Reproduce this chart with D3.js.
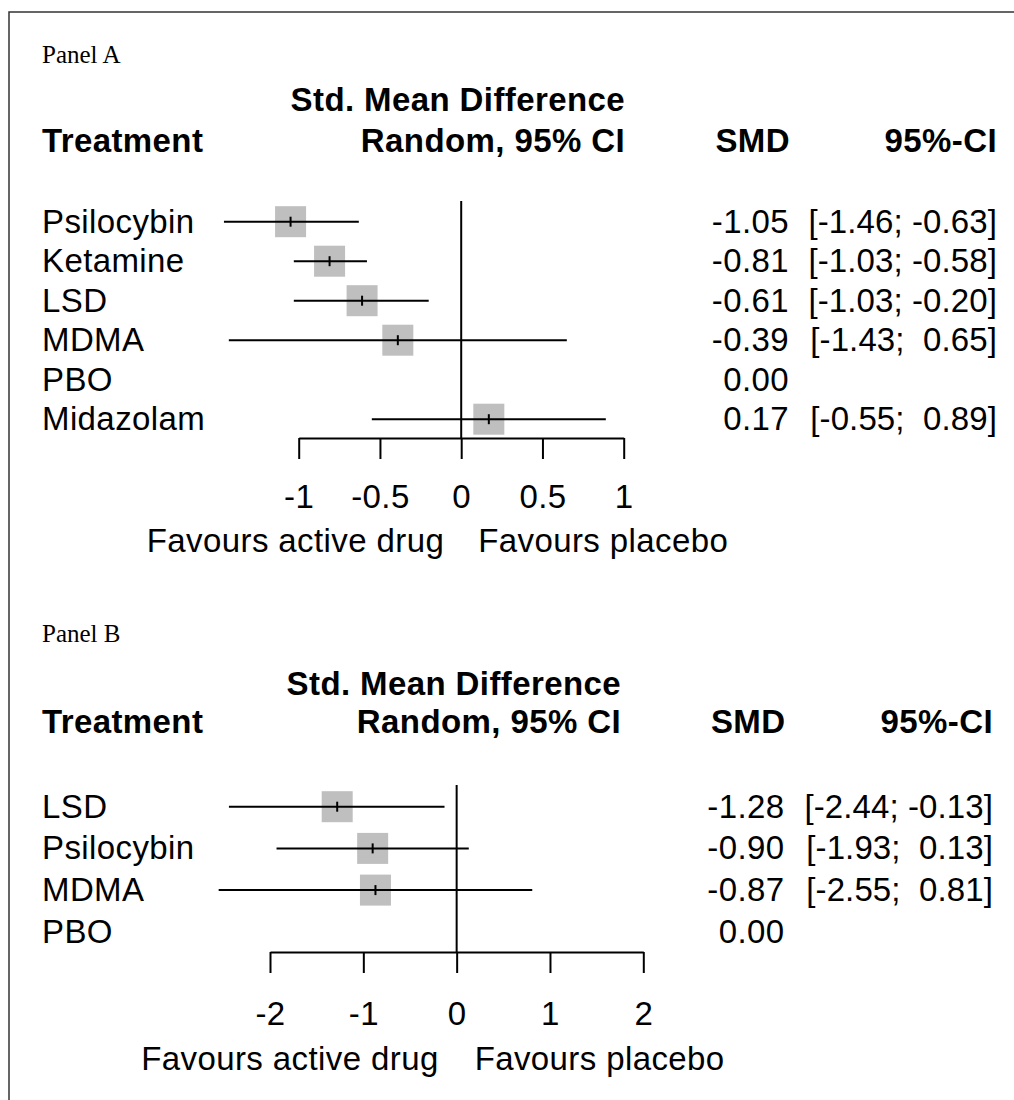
<!DOCTYPE html>
<html>
<head>
<meta charset="utf-8">
<script src="https://cdn.jsdelivr.net/npm/d3@7"></script>
<style>
  body { margin: 0; background: #fff; }
  text { font-family: "Liberation Sans", Arial, sans-serif; fill: #000; letter-spacing: 0.4px; }
</style>
</head>
<body>
<script>
var width = 1014,
    height = 1100;

// Panel A data
var treatmentsA = ["Psilocybin", "Ketamine", "LSD", "MDMA", "PBO", "Midazolam"];
var smdA   = [-1.05, -0.81, -0.61, -0.39, 0.00, 0.17];
var lowerA = [-1.46, -1.03, -1.03, -1.43, null, -0.55];
var upperA = [-0.63, -0.58, -0.20, 0.65, null, 0.89];
var ticksA = [-1, -0.5, 0, 0.5, 1];

// Panel B data
var treatmentsB = ["LSD", "Psilocybin", "MDMA", "PBO"];
var smdB   = [-1.28, -0.90, -0.87, 0.00];
var lowerB = [-2.44, -1.93, -2.55, null];
var upperB = [-0.13, 0.13, 0.81, null];
var ticksB = [-2, -1, 0, 1, 2];

var fontSize = 33;
var boxSize = 31;

var svg = d3.select("body").append("svg")
    .attr("width", width)
    .attr("height", height);

// frame
svg.append("path")
    .attr("d", "M9," + height + "V12H" + width)
    .attr("fill", "none")
    .attr("stroke", "#333")
    .attr("stroke-width", 1.5);

function fmtCI(lo, hi) {
  if (lo == null) return "";
  return "[" + lo.toFixed(2) + ";" + (hi < 0 ? " " : "  ") + hi.toFixed(2) + "]";
}

function drawPanel(p) {
  var g = svg.append("g");

  var x = d3.scaleLinear().domain(p.domain).range(p.xRange);
  var y = d3.scalePoint().domain(p.treatments)
      .range([p.row0, p.row0 + (p.treatments.length - 1) * p.step]);

  var rows = p.treatments.map(function(t, i) {
    return { name: t, smd: p.smd[i], lo: p.lower[i], hi: p.upper[i] };
  });

  // panel label
  g.append("text")
    .attr("x", 42).attr("y", p.labelY)
    .style("font-family", "'Liberation Serif', 'Times New Roman', serif")
    .style("font-size", "25px")
    .style("letter-spacing", "0px")
    .text(p.label);

  // headers
  var bold = function(sel) { return sel.style("font-weight", "bold").style("font-size", fontSize + "px"); };
  bold(g.append("text").attr("x", p.titleRight).attr("y", p.titleY)
    .attr("text-anchor", "end").text("Std. Mean Difference"));
  bold(g.append("text").attr("x", p.titleRight).attr("y", p.headY)
    .attr("text-anchor", "end").text("Random, 95% CI"));
  bold(g.append("text").attr("x", 42).attr("y", p.headY).text("Treatment"));
  bold(g.append("text").attr("x", p.smdRight + 1).attr("y", p.headY)
    .attr("text-anchor", "end").text("SMD"));
  bold(g.append("text").attr("x", p.ciRight).attr("y", p.headY)
    .attr("text-anchor", "end").text("95%-CI"));

  // reference line at 0
  g.append("line")
    .attr("x1", x(0)).attr("x2", x(0))
    .attr("y1", p.refTop).attr("y2", p.axisY)
    .attr("stroke", "#000").attr("stroke-width", 2);

  var row = g.selectAll("g.row").data(rows).enter().append("g").attr("class", "row");

  row.append("text")
    .attr("x", 42).attr("y", function(d) { return y(d.name) + 11; })
    .style("font-size", fontSize + "px")
    .text(function(d) { return d.name; });

  var est = row.filter(function(d) { return d.lo != null; });

  est.append("rect")
    .attr("x", function(d) { return x(d.smd) - boxSize / 2; })
    .attr("y", function(d) { return y(d.name) - boxSize / 2; })
    .attr("width", boxSize).attr("height", boxSize)
    .attr("fill", "#bfbfbf");

  est.append("line")
    .attr("x1", function(d) { return x(d.lo); })
    .attr("x2", function(d) { return x(d.hi); })
    .attr("y1", function(d) { return y(d.name); })
    .attr("y2", function(d) { return y(d.name); })
    .attr("stroke", "#000").attr("stroke-width", 2);

  est.append("line")
    .attr("x1", function(d) { return x(d.smd); })
    .attr("x2", function(d) { return x(d.smd); })
    .attr("y1", function(d) { return y(d.name) - 5; })
    .attr("y2", function(d) { return y(d.name) + 5; })
    .attr("stroke", "#000").attr("stroke-width", 2);

  row.append("text")
    .attr("x", p.smdRight).attr("y", function(d) { return y(d.name) + 11; })
    .attr("text-anchor", "end")
    .style("font-size", fontSize + "px")
    .text(function(d) { return d.smd.toFixed(2); });

  row.append("text")
    .attr("x", p.ciRight).attr("y", function(d) { return y(d.name) + 11; })
    .attr("text-anchor", "end")
    .style("font-size", fontSize + "px")
    .style("letter-spacing", "0.1px")
    .style("white-space", "pre")
    .text(function(d) { return fmtCI(d.lo, d.hi); });

  // axis
  var axis = g.append("g")
    .attr("transform", "translate(0," + p.axisY + ")")
    .call(d3.axisBottom(x).tickValues(p.ticks)
      .tickSize(p.tickLen).tickSizeOuter(0).tickPadding(p.tickPad)
      .tickFormat(function(d) { return String(d); }));
  axis.attr("font-family", null).attr("font-size", null);
  axis.selectAll("path, line").attr("stroke", "#000").attr("stroke-width", 2);
  axis.selectAll("text").style("font-size", fontSize + "px").attr("fill", "#000");

  g.append("text")
    .attr("x", x(0) - p.favGap).attr("y", p.favY)
    .attr("text-anchor", "end")
    .style("font-size", fontSize + "px")
    .text("Favours active drug");
  g.append("text")
    .attr("x", x(0) + p.favGap).attr("y", p.favY)
    .style("font-size", fontSize + "px")
    .text("Favours placebo");
}

drawPanel({
  label: "Panel A",
  treatments: treatmentsA, smd: smdA, lower: lowerA, upper: upperA, ticks: ticksA,
  domain: [-1, 1], xRange: [298.7, 623.7],
  labelY: 63, titleY: 111, headY: 152, titleRight: 625,
  row0: 221.7, step: 39.5, refTop: 201, axisY: 438, tickLen: 21, tickPad: 26,
  favY: 552, favGap: 17, smdRight: 789, ciRight: 997
});

drawPanel({
  label: "Panel B",
  treatments: treatmentsB, smd: smdB, lower: lowerB, upper: upperB, ticks: ticksB,
  domain: [-2, 2], xRange: [270, 643.3],
  labelY: 641.5, titleY: 695, headY: 733, titleRight: 621,
  row0: 806.7, step: 41.7, refTop: 785, axisY: 952, tickLen: 21, tickPad: 29,
  favY: 1070, favGap: 18, smdRight: 784.5, ciRight: 993
});
</script>
</body>
</html>
